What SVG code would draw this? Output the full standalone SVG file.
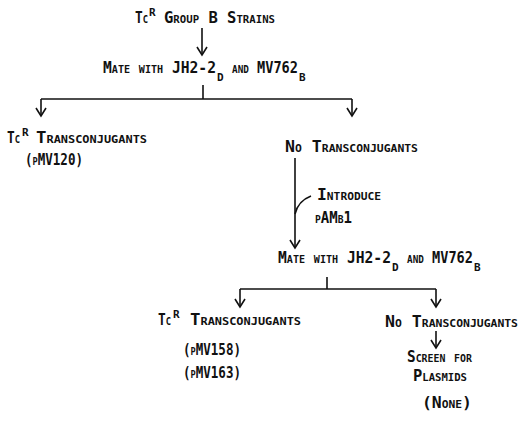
<svg xmlns="http://www.w3.org/2000/svg" width="519" height="421" viewBox="0 0 519 421">
<style>
text{font-family:"DejaVu Sans Mono","Liberation Mono",monospace;font-size:16px;font-weight:bold;font-variant:small-caps;fill:#111}
text.s{font-size:11px;font-variant:normal}
.c{stroke:#111;stroke-width:1.6;fill:none}
</style>
<defs>
<marker id="ah" markerUnits="userSpaceOnUse" markerWidth="20" markerHeight="20" refX="0" refY="0" orient="auto" overflow="visible">
<path d="M-8,-5 L0,0 L-8,5" fill="none" stroke="#111" stroke-width="1.6"/>
</marker>
</defs>
<rect width="519" height="421" fill="#fff"/>
<g id="connectors" class="c">
<line x1="202" y1="28" x2="202" y2="55" marker-end="url(#ah)"/>
<line x1="203" y1="85" x2="203" y2="99"/>
<line x1="41" y1="99" x2="352" y2="99"/>
<line x1="41" y1="99" x2="41" y2="116" marker-end="url(#ah)"/>
<line x1="352" y1="99" x2="352" y2="116" marker-end="url(#ah)"/>
<line x1="295" y1="158" x2="295" y2="248" marker-end="url(#ah)"/>
<path d="M295,214 Q298,201 311,196"/>
<line x1="327" y1="277" x2="327" y2="289"/>
<line x1="240" y1="289" x2="436" y2="289"/>
<line x1="240" y1="289" x2="240" y2="307" marker-end="url(#ah)"/>
<line x1="436" y1="289" x2="436" y2="307" marker-end="url(#ah)"/>
<line x1="436" y1="331" x2="436" y2="348" marker-end="url(#ah)"/>
</g>
<g id="n1">
<text x="135" y="23" textLength="13" lengthAdjust="spacingAndGlyphs">Tc</text>
<text class="s" x="149" y="16">R</text>
<text x="164" y="23" textLength="111" lengthAdjust="spacingAndGlyphs">Group B Strains</text>
</g>
<g id="n2">
<text x="103" y="73" textLength="113" lengthAdjust="spacingAndGlyphs">Mate with JH2-2</text>
<text class="s" x="217" y="81">D</text>
<text x="232" y="73" textLength="66" lengthAdjust="spacingAndGlyphs">and MV762</text>
<text class="s" x="299" y="81">B</text>
</g>
<g id="n3">
<text x="7" y="143" textLength="13" lengthAdjust="spacingAndGlyphs">Tc</text>
<text class="s" x="22" y="136">R</text>
<text x="36" y="143" textLength="111" lengthAdjust="spacingAndGlyphs">Transconjugants</text>
<text x="25" y="165" textLength="58" lengthAdjust="spacingAndGlyphs">(pMV120)</text>
</g>
<g id="n4">
<text x="285" y="152" textLength="133" lengthAdjust="spacingAndGlyphs">No Transconjugants</text>
</g>
<g id="n5">
<text x="317" y="200" textLength="64" lengthAdjust="spacingAndGlyphs">Introduce</text>
<text x="315" y="223" textLength="37" lengthAdjust="spacingAndGlyphs">pAMβ1</text>
</g>
<g id="n6">
<text x="278" y="263" textLength="113" lengthAdjust="spacingAndGlyphs">Mate with JH2-2</text>
<text class="s" x="392" y="271">D</text>
<text x="407" y="263" textLength="66" lengthAdjust="spacingAndGlyphs">and MV762</text>
<text class="s" x="474" y="271">B</text>
</g>
<g id="n7">
<text x="158" y="325" textLength="13" lengthAdjust="spacingAndGlyphs">Tc</text>
<text class="s" x="173" y="318">R</text>
<text x="190" y="325" textLength="111" lengthAdjust="spacingAndGlyphs">Transconjugants</text>
<text x="183" y="355" textLength="58" lengthAdjust="spacingAndGlyphs">(pMV158)</text>
<text x="183" y="378" textLength="58" lengthAdjust="spacingAndGlyphs">(pMV163)</text>
</g>
<g id="n8">
<text x="385" y="327" textLength="133" lengthAdjust="spacingAndGlyphs">No Transconjugants</text>
</g>
<g id="n9">
<text x="407" y="362" textLength="65" lengthAdjust="spacingAndGlyphs">Screen for</text>
<text x="413" y="381" textLength="54" lengthAdjust="spacingAndGlyphs">Plasmids</text>
</g>
<g id="n10">
<text x="422" y="408" textLength="50" lengthAdjust="spacingAndGlyphs">(None)</text>
</g>
</svg>
